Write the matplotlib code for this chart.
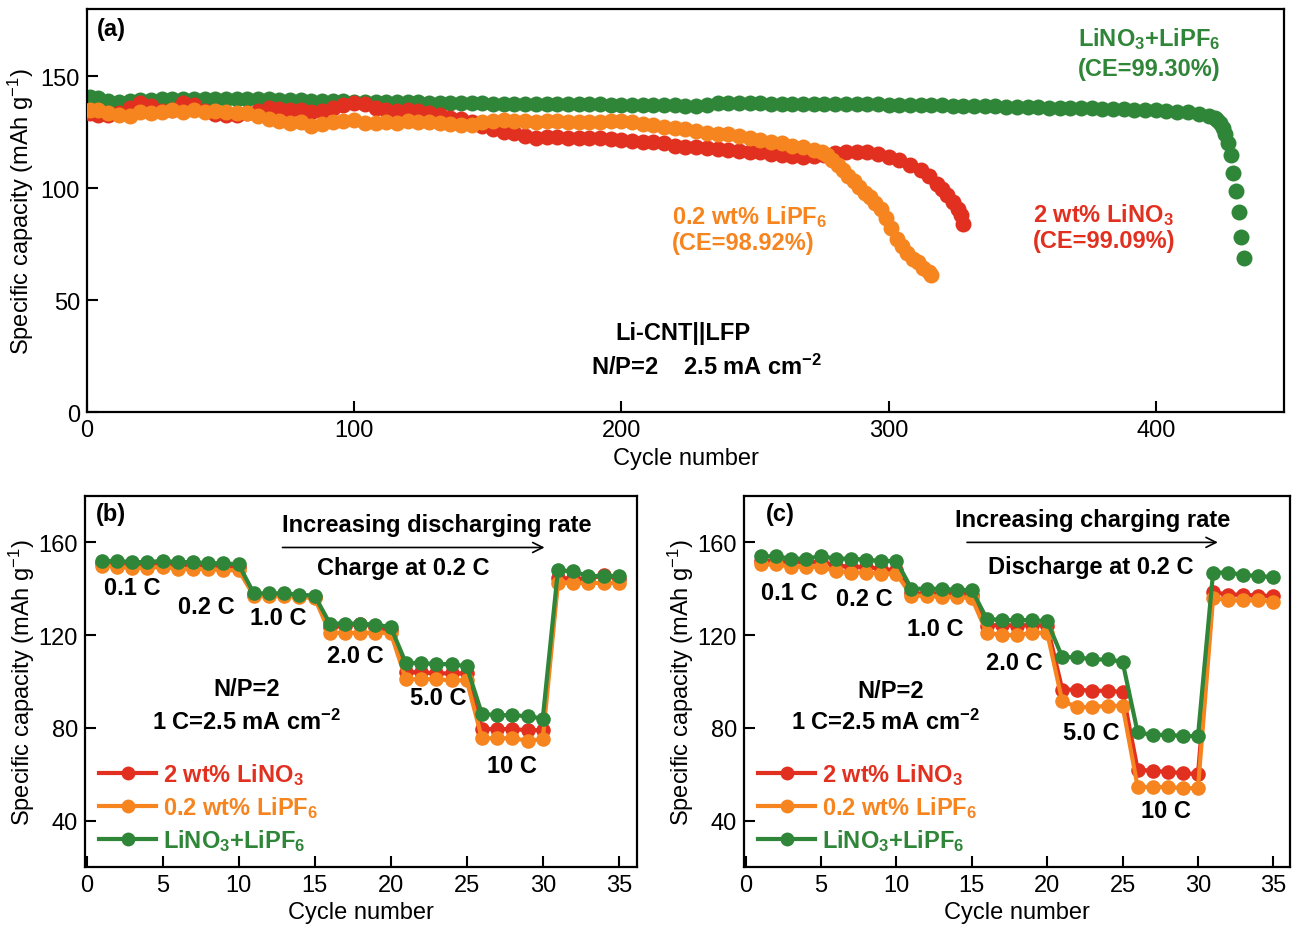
import numpy as np
import matplotlib
matplotlib.use("Agg")
import matplotlib.pyplot as plt

plt.rcParams['font.family'] = ['Liberation Sans', 'DejaVu Sans']
plt.rcParams['mathtext.fontset'] = 'custom'
plt.rcParams['mathtext.rm'] = 'Liberation Sans'
plt.rcParams['mathtext.bf'] = 'Liberation Sans:bold'
plt.rcParams['mathtext.it'] = 'Liberation Sans:italic'
plt.rcParams['mathtext.default'] = 'regular'

RED = '#e1301f'
ORANGE = '#f6841f'
GREEN = '#2f8538'
FS = 17

red_cyc = [1, 4, 8, 12, 16, 20, 24, 28, 32, 36, 40, 44, 48, 52, 56, 60, 64, 68, 72, 76,
           80, 84, 88, 92, 96, 100, 104, 108, 112, 116, 120, 124, 128, 132, 136, 140, 144,
           148, 152, 156, 160, 164, 168, 172, 176, 180, 184, 188, 192, 196, 200, 204, 208,
           212, 216, 220, 224, 228, 232, 236, 240, 244, 248, 252, 256, 260, 264, 268, 272,
           276, 280, 284, 288, 292, 296, 300, 304, 308, 312, 315, 318, 320, 322, 324, 326,
           327, 328]
red_cap = [133.5, 132.6, 132.5, 133.5, 136, 138, 136.5, 134.5, 135, 138.2, 137, 134.5, 133,
           132.6, 132.8, 133.5, 134.5, 136, 135.5, 135, 134.8, 133.8, 134.5, 136, 137.2, 138,
           137.5, 136, 135, 134.5, 134.8, 134.5, 133.5, 132.5, 131.5, 131, 129.5, 127.8,
           126.5, 125.2, 124.6, 123.5, 122.5, 122.8, 123, 122.5, 122.3, 122.5, 122.4, 122,
           121.5, 121.2, 120.8, 120.4, 120, 119, 118.6, 118.5, 118, 117.6, 117.2, 116.8,
           116.3, 116, 115.3, 114.8, 114.3, 114, 114.2, 114.6, 115.5, 116, 116.3, 116.2,
           115.3, 114, 112.5, 110.5, 108, 105.5, 102, 99.5, 97, 94, 90.5, 88, 84]

orange_cyc = [1, 4, 8, 12, 16, 20, 24, 28, 32, 36, 40, 44, 48, 52, 56, 60, 64, 68, 72, 76,
              80, 84, 88, 92, 96, 100, 104, 108, 112, 116, 120, 124, 128, 132, 136, 140, 144,
              148, 152, 156, 160, 164, 168, 172, 176, 180, 184, 188, 192, 196, 200, 204, 208,
              212, 216, 220, 224, 228, 232, 236, 240, 244, 248, 252, 256, 260, 264, 268, 272,
              275, 277, 279, 281, 283, 285, 287, 289, 291, 293, 295, 297, 299, 301, 303, 305,
              307, 309, 311, 313, 315, 316]
orange_cap = [134.8, 135, 133.5, 132.6, 132, 134, 133.5, 134, 135, 134, 135, 134.2, 134.5,
              133.8, 133.5, 133.4, 132.2, 131, 130, 129, 129.6, 127.6, 128.5, 129.6, 130,
              130.4, 129, 129.2, 129.6, 129, 129.8, 129.5, 129.6, 129.2, 128.5, 128.2, 128.4,
              129.5, 130.2, 130.4, 130, 130, 129.6, 129.8, 130, 129.5, 129.4, 129.6, 129.6,
              130, 129.8, 129.6, 128.8, 128, 127.4, 127, 126.2, 125.4, 124.8, 124.4, 124,
              123.2, 122.2, 121.5, 120.6, 120, 119, 118.4, 117, 116, 114.8, 112.5, 110.5,
              108, 105.5, 103, 100.5, 98, 96, 93.5, 90.5, 86.5, 82, 77.5, 74, 71, 68.5, 67,
              64.5, 62.5, 61.4]

green_cyc = [1, 4, 8, 12, 16, 20, 24, 28, 32, 36, 40, 44, 48, 52, 56, 60, 64, 68, 72, 76,
             80, 84, 88, 92, 96, 100, 104, 108, 112, 116, 120, 124, 128, 132, 136, 140, 144,
             148, 152, 156, 160, 164, 168, 172, 176, 180, 184, 188, 192, 196, 200, 204, 208,
             212, 216, 220, 224, 228, 232, 236, 240, 244, 248, 252, 256, 260, 264, 268, 272,
             276, 280, 284, 288, 292, 296, 300, 304, 308, 312, 316, 320, 324, 328, 332, 336,
             340, 344, 348, 352, 356, 360, 364, 368, 372, 376, 380, 384, 388, 392, 396, 400,
             404, 408, 412, 416, 420, 422, 423, 424, 425, 426, 427, 428, 429, 430, 431, 432,
             433]
green_cap = [140.8, 140.3, 139, 138.4, 138.7, 139.2, 139.5, 139.7, 139.9, 140, 139.9, 139.8,
             139.8, 139.7, 139.7, 139.6, 139.6, 139.6, 139.5, 139.4, 139.2, 139, 138.9, 138.8,
             138.7, 138.6, 138.6, 138.5, 138.5, 138.5, 138.4, 138.3, 138.2, 138.1, 138, 138,
             137.9, 137.9, 137.8, 137.8, 137.8, 137.7, 137.7, 137.7, 137.6, 137.6, 137.5,
             137.4, 137.4, 137.3, 137.3, 137.2, 137.2, 137.1, 137, 137, 136.9, 136.9, 137,
             137.9, 138, 138, 137.9, 137.9, 137.8, 137.8, 137.7, 137.7, 137.6, 137.6, 137.6,
             137.5, 137.5, 137.4, 137.4, 137.3, 137.2, 137.2, 137.1, 137, 137, 136.9, 136.8,
             136.7, 136.6, 136.5, 136.4, 136.3, 136.2, 136.1, 136, 135.9, 135.8, 135.7,
             135.6, 135.5, 135.4, 135.3, 135.1, 134.9, 134.7, 134.4, 134.1, 133.8, 133.2,
             132.3, 131.5, 130.5, 129, 127, 124, 120, 114.8, 106.8, 98.8, 89.5, 78.3, 69]

# ---- (b) discharge rate test, (c) charge rate test
rate_cyc = list(range(1, 36))

b_red = [151, 151, 150.5, 150.5, 151, 150, 150, 149.5, 149.5, 149.5,
         137.5, 137.5, 137.5, 137, 136.5, 123.5, 124, 125, 123.5, 122,
         104, 104, 103.5, 103.5, 103.5, 79.5, 79.5, 79.5, 79, 79,
         144.5, 144.5, 144, 146, 144]
b_orange = [150, 149.5, 149, 149, 149.5, 148.5, 148.5, 148.5, 148, 148,
            137, 137, 137, 136.5, 136, 121, 121, 121, 121, 121,
            101, 101, 101, 100.5, 100.5, 75.5, 75.5, 75.5, 74.5, 75,
            142.5, 142.5, 142.5, 142.5, 142.5]
b_green = [152, 152, 151.5, 151.5, 152, 151.5, 151.5, 151, 151, 150.5,
           138, 138, 138, 137.5, 137, 125, 125, 125, 124.5, 123.5,
           108, 108, 107.5, 107.5, 106.5, 86, 85.5, 85.5, 85, 84,
           148, 147.5, 145.5, 145.5, 145.5]

c_red = [152, 152, 151.5, 151.5, 151.5, 150, 149.5, 149.5, 148.5, 148,
         138, 138, 138, 138, 137.5, 124, 124.5, 124, 124.5, 124,
         96.5, 96.5, 96, 96, 95.5, 62, 61.5, 61, 60.5, 60,
         138.5, 137.5, 137.5, 137, 137]
c_orange = [150.5, 150.5, 149.5, 149.5, 149.5, 147.5, 147, 147, 146.5, 146.5,
            137, 137, 136.5, 136.5, 136, 121, 120, 120, 121, 121,
            91.5, 89, 89, 89.5, 89.5, 54.5, 54.5, 54.5, 54, 54,
            136, 135, 135, 135, 134.5]
c_green = [154, 154, 153, 153, 154, 153, 153, 152.5, 152, 152,
           140, 140, 140, 139.5, 139.5, 127, 126.5, 126.5, 126.5, 126,
           110.5, 110.5, 109.5, 109.5, 108.5, 78, 77, 77, 76.5, 76.5,
           147, 147, 146, 145.5, 145]

fig = plt.figure(figsize=(12.94, 9.29), dpi=100)
ax_a = fig.add_axes([0.0672, 0.5554, 0.9251, 0.4338])
ax_b = fig.add_axes([0.0657, 0.0657, 0.4266, 0.3993])
ax_c = fig.add_axes([0.5750, 0.0657, 0.4219, 0.3993])


def style(ax, ypad=3, xpad=4):
    for s in ax.spines.values():
        s.set_linewidth(1.6)
    ax.tick_params(direction='in', length=8, width=1.5, labelsize=FS, pad=5)
    ax.set_xlabel('Cycle number', fontsize=FS, labelpad=xpad)
    ax.set_ylabel('Specific capacity (mAh g$^{-1}$)', fontsize=FS, labelpad=ypad)


# ---- panel (a)
ms = 11.5
ax_a.plot(green_cyc, green_cap, 'o', color=GREEN, ms=ms, mew=0, zorder=2)
ax_a.plot(red_cyc, red_cap, 'o', color=RED, ms=ms, mew=0, zorder=3)
ax_a.plot(orange_cyc, orange_cap, 'o', color=ORANGE, ms=ms, mew=0, zorder=4)
ax_a.set_xlim(0, 448)
ax_a.set_ylim(0, 180)
ax_a.set_xticks([0, 100, 200, 300, 400])
ax_a.set_yticks([0, 50, 100, 150])
style(ax_a)
bold = dict(fontsize=FS, fontweight='bold')
ax_a.text(0.008, 0.935, '(a)', transform=ax_a.transAxes, **bold)
ax_a.text(397.5, 167, 'LiNO$_\\mathbf{3}$+LiPF$_\\mathbf{6}$', color=GREEN, ha='center', va='center', **bold)
ax_a.text(397.5, 153.5, '(CE=99.30%)', color=GREEN, ha='center', va='center', **bold)
ax_a.text(219, 87.5, '0.2 wt% LiPF$_\\mathbf{6}$', color=ORANGE, ha='left', va='center', **bold)
ax_a.text(219, 75.5, '(CE=98.92%)', color=ORANGE, ha='left', va='center', **bold)
ax_a.text(354, 88.5, '2 wt% LiNO$_\\mathbf{3}$', color=RED, ha='left', va='center', **bold)
ax_a.text(354, 76.5, '(CE=99.09%)', color=RED, ha='left', va='center', **bold)
ax_a.text(223, 35.5, 'Li-CNT||LFP', ha='center', va='center', **bold)
ax_a.text(232, 20.3, 'N/P=2    2.5 mA cm$^{\\mathbf{-2}}$', ha='center', va='center', **bold)

# ---- panels (b) and (c)
labels = ['2 wt% LiNO$_\\mathbf{3}$', '0.2 wt% LiPF$_\\mathbf{6}$',
          'LiNO$_\\mathbf{3}$+LiPF$_\\mathbf{6}$']
colors = [RED, ORANGE, GREEN]


def rate_panel(ax, series, xmax):
    for vals, col, lab, z in zip(series, colors, labels, [3, 4, 5]):
        ax.plot(rate_cyc, vals, '-o', color=col, lw=3, ms=10.5, mew=0, label=lab, zorder=z)
    ax.set_xlim(-0.1, xmax)
    ax.set_ylim(20, 180)
    ax.set_xticks([0, 5, 10, 15, 20, 25, 30, 35])
    ax.set_yticks([40, 80, 120, 160])
    style(ax, ypad=1, xpad=4)
    leg = ax.legend(loc='lower left', frameon=False, prop=dict(size=FS, weight='bold'),
                    handlelength=2.4, handletextpad=0.3, labelspacing=0.3,
                    borderaxespad=0.2, bbox_to_anchor=(0.0, 0.0), markerscale=0.95)
    for t, col in zip(leg.get_texts(), colors):
        t.set_color(col)


rate_panel(ax_b, [b_red, b_orange, b_green], 36.2)
ax_b.text(0.02, 0.935, '(b)', transform=ax_b.transAxes, **bold)
ax_b.text(23.0, 167.5, 'Increasing discharging rate', ha='center', va='center', **bold)
ax_b.annotate('', xy=(30.3, 157.8), xytext=(12.7, 157.8),
              arrowprops=dict(arrowstyle='->', lw=1.2, color='black', mutation_scale=18))
ax_b.text(20.8, 149, 'Charge at 0.2 C', ha='center', va='center', **bold)
for s, x, y in [('0.1 C', 3.0, 140.6), ('0.2 C', 7.9, 132.5), ('1.0 C', 12.6, 127.7),
                ('2.0 C', 17.7, 111), ('5.0 C', 23.1, 93.3), ('10 C', 28.0, 63.7)]:
    ax_b.text(x, y, s, ha='center', va='center', **bold)
ax_b.text(10.5, 96.8, 'N/P=2', ha='center', va='center', **bold)
ax_b.text(10.5, 83, '1 C=2.5 mA cm$^{\\mathbf{-2}}$', ha='center', va='center', **bold)

rate_panel(ax_c, [c_red, c_orange, c_green], 36.1)
ax_c.text(0.04, 0.935, '(c)', transform=ax_c.transAxes, **bold)
ax_c.text(23.0, 170, 'Increasing charging rate', ha='center', va='center', **bold)
ax_c.annotate('', xy=(31.5, 160), xytext=(14.5, 160),
              arrowprops=dict(arrowstyle='->', lw=1.2, color='black', mutation_scale=18))
ax_c.text(22.9, 149.7, 'Discharge at 0.2 C', ha='center', va='center', **bold)
for s, x, y in [('0.1 C', 2.9, 138.5), ('0.2 C', 7.9, 136), ('1.0 C', 12.6, 123),
                ('2.0 C', 17.8, 108), ('5.0 C', 22.9, 78), ('10 C', 27.9, 44.3)]:
    ax_c.text(x, y, s, ha='center', va='center', **bold)
ax_c.text(9.6, 96.3, 'N/P=2', ha='center', va='center', **bold)
ax_c.text(9.3, 83, '1 C=2.5 mA cm$^{\\mathbf{-2}}$', ha='center', va='center', **bold)

fig.savefig('out.png', dpi=100)
